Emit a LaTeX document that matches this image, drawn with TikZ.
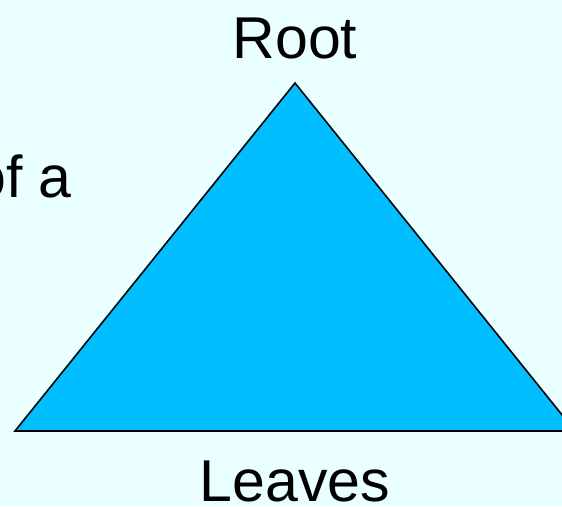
\documentclass[tikz,border=0pt]{standalone}
\usepackage{fontspec}
\setmainfont{Liberation Sans}
\definecolor{paleback}{RGB}{234,255,255}
\definecolor{treeblue}{RGB}{0,190,255}
\begin{document}
\begin{tikzpicture}[x=1pt,y=1pt,
    label text/.style={font=\fontsize{59}{60}\selectfont, inner sep=0pt}]
    % Background
    \fill[paleback] (0,0) rectangle (562,506);
    \useasboundingbox (0,0) rectangle (562,506);
    \clip (0,0) rectangle (562,506);
    % Coordinate
    \coordinate (Apex) at (295,423);
    \coordinate (LeftEnd) at (15,75);
    \coordinate (RightEnd) at (575,75);
    % Triangle
    \draw[fill=treeblue, line width=1.6pt, line join=miter] (Apex) -- (LeftEnd) -- (RightEnd) -- cycle;
    % Writing space
    \node[label text, anchor=base] (root) at (295,447) {Root};
    \node[label text, anchor=base, text depth=0pt] (leaves) at (295,5) {Leaves};
    \node[label text, anchor=base west] (ofa) at (-27,308) {of a};
\end{tikzpicture}
\end{document}
